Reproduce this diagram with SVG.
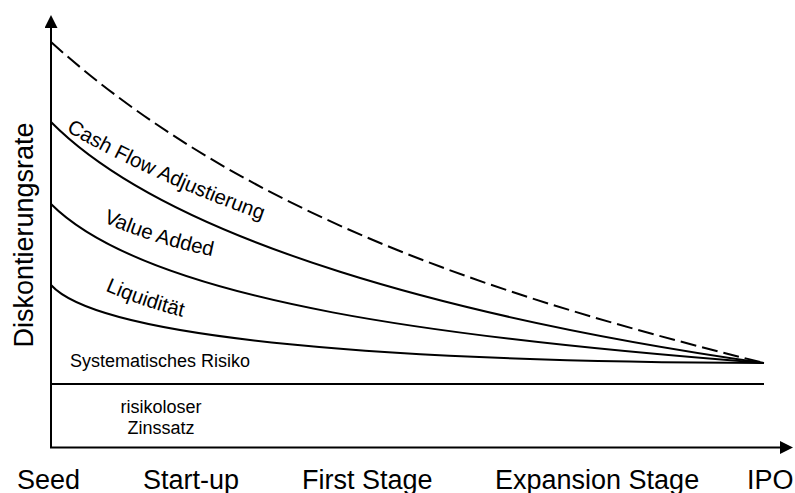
<svg xmlns="http://www.w3.org/2000/svg" width="795" height="493" viewBox="0 0 795 493">
  <style>
    .ln { fill: none; stroke: #000; stroke-width: 2; }
    .dash { stroke-dasharray: 16 6; }
    .t { font-family: "Liberation Sans", Arial, sans-serif; fill: #000; }
    .ax { font-size: 27px; }
    .sm { font-size: 18px; }
    .cv { font-size: 20.5px; }
  </style>
  <defs>
    <marker id="arrow" viewBox="0 0 13 13" refX="0" refY="6.5" markerWidth="13" markerHeight="13" markerUnits="userSpaceOnUse" orient="auto">
      <path d="M0,0 L13,6.5 L0,13 Z" fill="#000"/>
    </marker>
    <path id="pCF" d="M66,131 Q157.5,183.5 268,222"/>
    <path id="pVA" d="M103,222 Q152.8,244.2 216,257"/>
    <path id="pLQ" d="M105,290.5 Q143.3,307.5 187,318"/>
  </defs>
  <rect width="795" height="493" fill="#fff"/>

  <g id="axes">
    <path class="ln" d="M51,448 L51,28" marker-end="url(#arrow)"/>
    <path class="ln" d="M50,447.5 L780,447.5" marker-end="url(#arrow)"/>
  </g>

  <g id="curves">
    <path class="ln dash" d="M51,42 C251,222 514,300.5 764,363"/>
    <path class="ln" d="M51,122 C171,243 464,320 764,363"/>
    <path class="ln" d="M51,204 C151,304 464,340 764,363"/>
    <path class="ln" d="M51,285 C101,340 400,362 764,363"/>
    <path class="ln" d="M51,384 L764,384"/>
  </g>

  <g id="curve-labels">
    <text class="t cv"><textPath href="#pCF">Cash Flow Adjustierung</textPath></text>
    <text class="t cv"><textPath href="#pVA">Value Added</textPath></text>
    <text class="t cv"><textPath href="#pLQ">Liquidität</textPath></text>
  </g>

  <g id="band-labels">
    <text class="t sm" x="70" y="367">Systematisches Risiko</text>
    <text class="t sm" x="161" y="413" text-anchor="middle">risikoloser</text>
    <text class="t sm" x="161" y="434" text-anchor="middle">Zinssatz</text>
  </g>

  <g id="axis-labels">
    <text class="t ax" x="33" y="235" text-anchor="middle" transform="rotate(-90 33 235)">Diskontierungsrate</text>
    <text class="t ax" x="17" y="489">Seed</text>
    <text class="t ax" x="143" y="489">Start-up</text>
    <text class="t ax" x="302" y="489">First Stage</text>
    <text class="t ax" x="495" y="489">Expansion Stage</text>
    <text class="t ax" x="747" y="489">IPO</text>
  </g>
</svg>
